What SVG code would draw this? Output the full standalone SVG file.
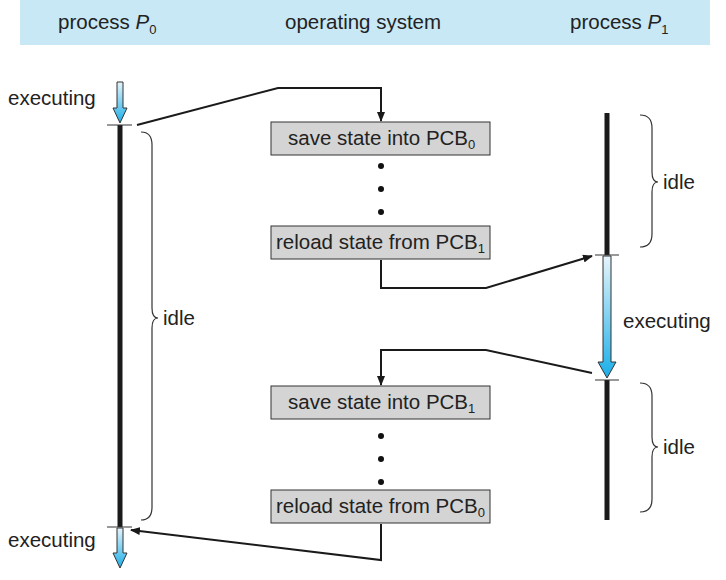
<svg xmlns="http://www.w3.org/2000/svg" width="726" height="580" viewBox="0 0 726 580">
<style>
text{font-family:"Liberation Sans",Arial,sans-serif;font-size:20.5px;fill:#222}
.box rect{fill:#d4d4d4;stroke:#333;stroke-width:1}
.line{stroke:#1a1a1a;stroke-width:5}
.tick{stroke:#333;stroke-width:1}
.con{fill:none;stroke:#1a1a1a;stroke-width:2;marker-end:url(#ah)}
.brace{fill:none;stroke:#333;stroke-width:1.2}
.barr{fill:url(#g);stroke:#333;stroke-width:1}
</style>
<defs>
<marker id="ah" markerWidth="10" markerHeight="8" refX="9" refY="4" orient="auto" markerUnits="userSpaceOnUse"><path d="M0,0L10,4L0,8z" fill="#1a1a1a"/></marker>
<linearGradient id="g" x1="0" y1="0" x2="0" y2="1"><stop offset="0" stop-color="#e6f4fb"/><stop offset="1" stop-color="#1aaee8"/></linearGradient>
</defs>
<rect x="20" y="0" width="690" height="45" fill="#c8e8f6"/>
<text x="58" y="29">process <tspan font-style="italic">P</tspan><tspan font-size="13" dy="5">0</tspan></text>
<text x="285" y="29">operating system</text>
<text x="570" y="29">process <tspan font-style="italic">P</tspan><tspan font-size="13" dy="5">1</tspan></text>

<g id="p0">
<line class="line" x1="120" y1="125" x2="120" y2="527"/>
<line class="tick" x1="107" y1="125" x2="132" y2="125"/>
<line class="tick" x1="107" y1="527" x2="132" y2="527"/>
<path class="barr" d="M117,82H123V108H127L120,123L113,108H117Z"/>
<path class="barr" d="M117,528H123V553H127L120,568L113,553H117Z"/>
<text x="8" y="105">executing</text>
<text x="8" y="547">executing</text>
<path class="brace" d="M141,132Q152,132 152,145V308Q152,318 158,318Q152,318 152,328V507Q152,520 141,520"/>
<text x="163" y="325">idle</text>
</g>

<g id="p1">
<line class="line" x1="607" y1="113" x2="607" y2="255"/>
<line class="line" x1="607" y1="380" x2="607" y2="520"/>
<line class="tick" x1="595" y1="255" x2="619" y2="255"/>
<line class="tick" x1="595" y1="380" x2="619" y2="380"/>
<path class="barr" d="M603,256H611V362H616L607,378L598,362H603Z"/>
<text x="623" y="328">executing</text>
<path class="brace" d="M640,115Q652,115 652,128V172Q652,182 658,182Q652,182 652,192V234Q652,247 640,247"/>
<text x="663" y="189">idle</text>
<path class="brace" d="M640,383Q652,383 652,396V437Q652,447 658,447Q652,447 652,457V499Q652,512 640,512"/>
<text x="663" y="454">idle</text>
</g>

<g id="os">
<g class="box"><rect x="271" y="122" width="219" height="33"/><text x="288" y="145">save state into PCB<tspan font-size="13" dy="4">0</tspan></text></g>
<g class="box"><rect x="271" y="226" width="219" height="33"/><text x="276" y="249">reload state from PCB<tspan font-size="13" dy="4">1</tspan></text></g>
<g class="box"><rect x="271" y="386" width="219" height="33"/><text x="288" y="409">save state into PCB<tspan font-size="13" dy="4">1</tspan></text></g>
<g class="box"><rect x="271" y="490" width="219" height="33"/><text x="276" y="513">reload state from PCB<tspan font-size="13" dy="4">0</tspan></text></g>
<g fill="#111"><circle cx="381" cy="166" r="3"/><circle cx="381" cy="189" r="3"/><circle cx="381" cy="212" r="3"/><circle cx="381" cy="436" r="3"/><circle cx="381" cy="459" r="3"/><circle cx="381" cy="482" r="3"/></g>
</g>

<g id="connectors">
<path class="con" d="M137,125L278,88H381V121"/>
<path class="con" d="M381,260V288H486L592,256"/>
<path class="con" d="M592,373L486,350H381V385"/>
<path class="con" d="M381,524V560L131,530"/>
</g>
</svg>
